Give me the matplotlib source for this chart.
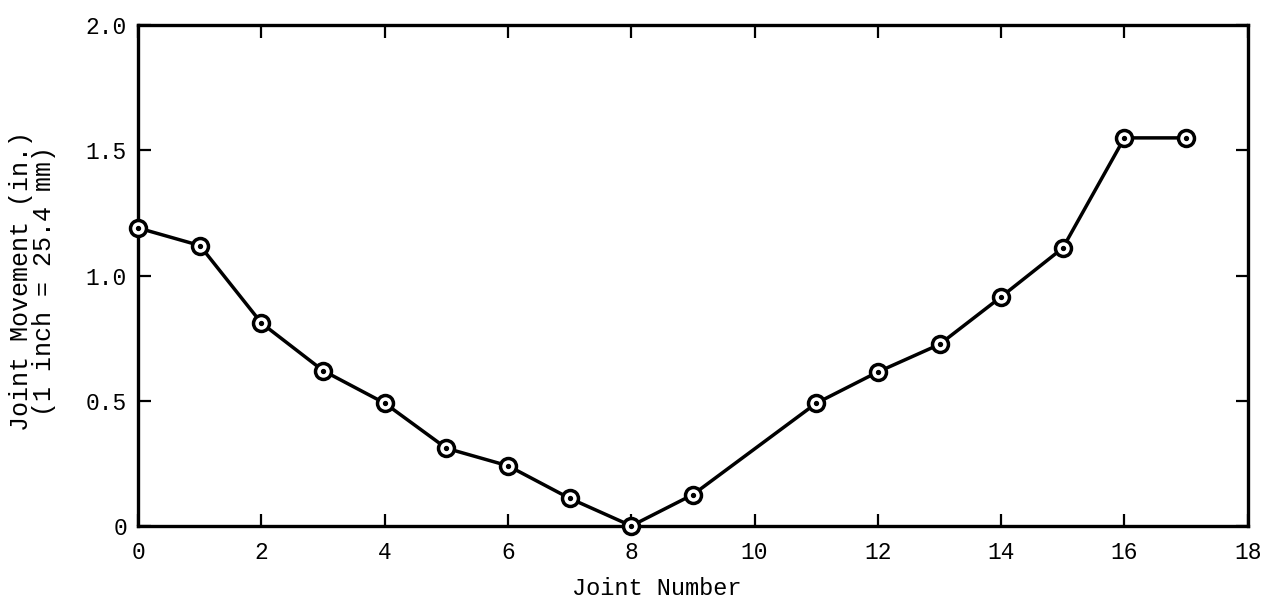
import numpy as np
import matplotlib
matplotlib.use('Agg')
import matplotlib.pyplot as plt

# joint movement (joint 10 has no reading)
joints = [0, 1, 2, 3, 4, 5, 6, 7, 8, 9, 11, 12, 13, 14, 15, 16, 17]
movement = [1.19, 1.12, 0.81, 0.62, 0.49, 0.31, 0.24, 0.11, 0.0, 0.125,
            0.49, 0.615, 0.725, 0.915, 1.11, 1.55, 1.55]

x_ticks = [0, 2, 4, 6, 8, 10, 12, 14, 16, 18]
y_ticks = [0, 0.5, 1.0, 1.5, 2.0]
y_tick_labels = ['0', '0.5', '1.0', '1.5', '2.0']

plt.rcParams['font.family'] = ['Liberation Mono', 'DejaVu Sans Mono']

fig = plt.figure(figsize=(12.68, 6.01), dpi=100)
ax = fig.add_axes([0.109, 0.125, 0.875, 0.833])

ax.plot(joints, movement, color='black', lw=2.5, marker='o', ms=11.5,
        mfc='white', mec='black', mew=2.5, clip_on=False, zorder=3)
ax.plot(joints, movement, ls='none', marker='o', ms=2.8, color='black',
        clip_on=False, zorder=4)

ax.set_xlim(0, 18)
ax.set_ylim(0, 2.0)
ax.set_xticks(x_ticks)
ax.set_xticklabels([str(t) for t in x_ticks])
ax.set_yticks(y_ticks)
ax.set_yticklabels(y_tick_labels)

ax.tick_params(direction='in', length=9, width=1.6, labelsize=16.5,
               top=True, right=True)
ax.tick_params(axis='x', pad=11)
ax.tick_params(axis='y', pad=8)
for s in ax.spines.values():
    s.set_linewidth(2.4)

ax.set_xlabel('Joint Number', fontsize=17)
ax.xaxis.set_label_coords(0.467, -0.102)
ax.set_ylabel('Joint Movement (in.)\n(1 inch = 25.4 mm)', fontsize=18,
              linespacing=0.95)
ax.yaxis.set_label_coords(-0.074, 0.49)

fig.savefig('out.png', dpi=100)
